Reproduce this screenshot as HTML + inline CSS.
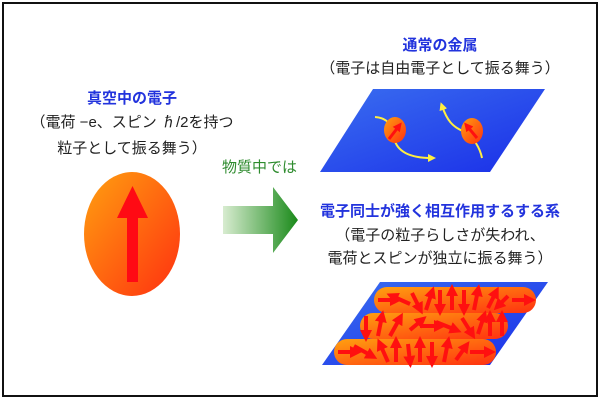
<!DOCTYPE html>
<html><head><meta charset="utf-8"><style>
html,body{margin:0;padding:0;background:#fff}
body{width:600px;height:400px;position:relative;overflow:hidden;font-family:"Liberation Sans","Noto Sans CJK JP",sans-serif}
.frame{position:absolute;left:2px;top:2px;width:592px;height:391px;border:2px solid #111}
.t{position:absolute;white-space:nowrap;font-size:15px;text-align:center;font-weight:bold}
.b{color:#2233dd}.k{color:#222;font-weight:normal}.g{color:#2e8b2e}
</style></head><body>
<div class="frame"></div>
<div class="t b" style="left:30px;top:87px;width:204px">真空中の電子</div>
<div class="t k" style="left:10px;top:111px;width:244px">（電荷 −e、スピン ℏ/2を持つ</div>
<div class="t k" style="left:30px;top:137px;width:204px">粒子として振る舞う）</div>
<div class="t g" style="left:222px;top:156px;width:90px;text-align:left;font-weight:normal">物質中では</div>
<div class="t b" style="left:340px;top:34px;width:200px">通常の金属</div>
<div class="t k" style="left:290px;top:57px;width:300px">（電子は自由電子として振る舞う）</div>
<div class="t b" style="left:290px;top:200px;width:300px">電子同士が強く相互作用するする系</div>
<div class="t k" style="left:290px;top:224px;width:300px">（電子の粒子らしさが失われ、</div>
<div class="t k" style="left:290px;top:247px;width:300px">電荷とスピンが独立に振る舞う）</div>
<svg width="600" height="400" style="position:absolute;left:0;top:0">
<defs>
<linearGradient id="og" x1="0" y1="0" x2="1" y2="1"><stop offset="0" stop-color="#ffa010"/><stop offset="1" stop-color="#ff3010"/></linearGradient>
<linearGradient id="gg" x1="0" y1="0" x2="1" y2="0"><stop offset="0" stop-color="#d8ecd0"/><stop offset="1" stop-color="#1a8a1a"/></linearGradient>
<linearGradient id="bg" x1="0" y1="0" x2="1" y2="1"><stop offset="0" stop-color="#3a6ef0"/><stop offset="1" stop-color="#1a2ee8"/></linearGradient>
<marker id="m" markerWidth="3" markerHeight="3" refX="1.5" refY="1.5" orient="auto"><path d="M0,0L3,1.5L0,3z" fill="#ff1010"/></marker>
<marker id="y" markerWidth="4" markerHeight="4" refX="2" refY="2" orient="auto"><path d="M0,0L4,2L0,4z" fill="#ffee40"/></marker>
</defs>
<ellipse cx="132" cy="234" rx="48" ry="62" fill="url(#og)"/>
<path d="M127,282V218H117L132.5,186L148,218H138V282Z" fill="#ff0a14"/>
<path d="M223,206H273V187L298,220L273,253V234H223Z" fill="url(#gg)"/>
<path d="M373,89H545L490,172H320Z" fill="url(#bg)"/>
<path d="M375,117C390,118 392,128 394,138C397,152 410,158 432,158" stroke="#ffee40" stroke-width="2" fill="none" marker-end="url(#y)"/>
<path d="M482,158C480,148 474,138 465,132C452,127 447,120 442,106" stroke="#ffee40" stroke-width="2" fill="none" marker-end="url(#y)"/>
<ellipse cx="395" cy="130" rx="11" ry="13" fill="url(#og)"/>
<ellipse cx="472" cy="131" rx="11" ry="13" fill="url(#og)"/>
<line x1="389" y1="139" x2="399" y2="126" stroke="#ff1010" stroke-width="3" marker-end="url(#m)"/>
<line x1="477" y1="138" x2="467" y2="126" stroke="#ff1010" stroke-width="3" marker-end="url(#m)"/>
<path d="M380,282H548L490,365H322Z" fill="url(#bg)"/>
<g fill="url(#og)">
<rect x="374" y="287" width="162" height="26" rx="13"/>
<rect x="360" y="313" width="148" height="26" rx="13"/>
<rect x="334" y="339" width="162" height="26" rx="13"/>
</g>
<g stroke="#ff1010" stroke-width="4" marker-end="url(#m)">
<line x1="378" y1="300" x2="396" y2="300"/><line x1="410" y1="304" x2="392" y2="296"/>
<line x1="412" y1="293" x2="420" y2="309"/><line x1="426" y1="310" x2="432" y2="292"/>
<line x1="440" y1="290" x2="440" y2="310"/><line x1="452" y1="310" x2="452" y2="290"/>
<line x1="464" y1="290" x2="464" y2="310"/><line x1="474" y1="310" x2="478" y2="290"/>
<line x1="488" y1="308" x2="496" y2="292"/><line x1="508" y1="296" x2="498" y2="306"/>
<line x1="512" y1="300" x2="530" y2="300"/>
<line x1="366" y1="316" x2="366" y2="336"/><line x1="378" y1="336" x2="382" y2="316"/>
<line x1="390" y1="336" x2="400" y2="318"/><line x1="410" y1="330" x2="422" y2="320"/>
<line x1="420" y1="326" x2="440" y2="326"/><line x1="436" y1="322" x2="456" y2="330"/>
<line x1="462" y1="318" x2="472" y2="334"/><line x1="478" y1="334" x2="484" y2="316"/>
<line x1="490" y1="336" x2="490" y2="316"/><line x1="502" y1="336" x2="502" y2="316"/>
<line x1="338" y1="352" x2="356" y2="352"/><line x1="354" y1="346" x2="372" y2="356"/>
<line x1="388" y1="362" x2="380" y2="344"/><line x1="396" y1="362" x2="396" y2="342"/>
<line x1="408" y1="344" x2="410" y2="362"/><line x1="420" y1="362" x2="420" y2="342"/>
<line x1="432" y1="342" x2="432" y2="362"/><line x1="444" y1="362" x2="448" y2="342"/>
<line x1="456" y1="360" x2="466" y2="346"/><line x1="470" y1="352" x2="490" y2="352"/>
</g>
</svg>
</body></html>
